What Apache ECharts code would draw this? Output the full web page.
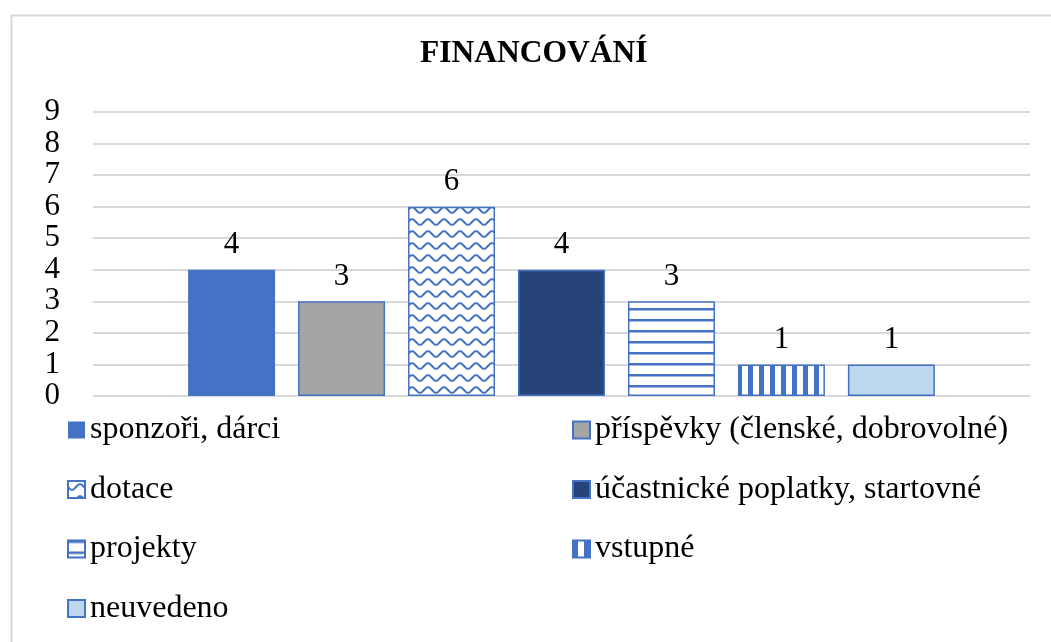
<!DOCTYPE html>
<html>
<head>
<meta charset="utf-8">
<title>FINANCOVÁNÍ</title>
<script src="https://cdn.jsdelivr.net/npm/echarts@6/dist/echarts.min.js"></script>
<style>
  html, body { margin: 0; padding: 0; background: #fff; }
  #chart { width: 1051px; height: 642px; }
</style>
</head>
<body>
<div id="chart"></div>
<script>
// data
const categories = [""];
const seriesNames = [
  "sponzoři, dárci",
  "příspěvky (členské, dobrovolné)",
  "dotace",
  "účastnické poplatky, startovné",
  "projekty",
  "vstupné",
  "neuvedeno"
];
const seriesValues = [4, 3, 6, 4, 3, 1, 1];
const yTicks = [0, 1, 2, 3, 4, 5, 6, 7, 8, 9];

// legend columns as in the picture
const legendLeftCol = [seriesNames[0], seriesNames[2], seriesNames[4], seriesNames[6]];
const legendRightCol = [seriesNames[1], seriesNames[3], seriesNames[5]];

const BLUE = "#4472C4";
const FONT = "Liberation Serif";

// small canvas tiles used as fill patterns
function makeTile(w, h, draw) {
  const c = document.createElement("canvas");
  c.width = w;
  c.height = h;
  const ctx = c.getContext("2d");
  ctx.fillStyle = "#fff";
  ctx.fillRect(0, 0, w, h);
  draw(ctx);
  return c;
}

const waveTile = makeTile(16, 12, function(ctx) {
  ctx.strokeStyle = BLUE;
  ctx.lineWidth = 2;
  ctx.beginPath();
  for (let x = -1; x <= 17; x += 0.5) {
    const y = 6 + 2.8 * Math.sin((2 * Math.PI * x) / 16);
    if (x === -1) ctx.moveTo(x, y);
    else ctx.lineTo(x, y);
  }
  ctx.stroke();
});

const hStripeTile = makeTile(8, 11, function(ctx) {
  ctx.fillStyle = BLUE;
  ctx.fillRect(0, 0, 8, 2.5);
});

const vStripeTile = makeTile(11, 8, function(ctx) {
  ctx.fillStyle = BLUE;
  ctx.fillRect(0, 0, 5, 8);
});

const fills = [
  BLUE,
  "#A5A5A5",
  { image: waveTile, repeat: "repeat" },
  "#264478",
  { image: hStripeTile, repeat: "repeat" },
  { image: vStripeTile, repeat: "repeat" },
  "#BDD7EE"
];

const chart = echarts.init(document.getElementById("chart"));

const series = seriesNames.map(function(name, i) {
  return {
    name: name,
    type: "bar",
    barWidth: 87,
    barGap: "26.4%",
    itemStyle: {
      color: fills[i],
      borderColor: BLUE,
      borderWidth: i === 0 ? 0 : 1.5
    },
    label: {
      show: true,
      position: "top",
      distance: 9,
      color: "#000",
      fontSize: 31,
      fontFamily: FONT
    },
    data: [seriesValues[i]]
  };
});

const legendBase = {
  orient: "vertical",
  icon: "rect",
  itemWidth: 17,
  itemHeight: 17,
  itemGap: 27.5,
  top: 414,
  padding: 0,
  textStyle: {
    color: "#000",
    fontSize: 32,
    lineHeight: 31,
    fontFamily: FONT
  }
};

const option = {
  animation: false,
  backgroundColor: "#fff",
  title: {
    text: "FINANCOVÁNÍ",
    left: 420,
    top: 38,
    padding: 0,
    textStyle: {
      color: "#000",
      fontSize: 31.5,
      fontWeight: "bold",
      fontFamily: FONT
    }
  },
  graphic: [
    {
      type: "rect",
      left: 9,
      top: 13,
      shape: { width: 1100, height: 700 },
      style: { fill: "none", stroke: "#d9d9d9", lineWidth: 2 },
      silent: true
    }
  ],
  legend: [
    Object.assign({}, legendBase, { left: 67, data: legendLeftCol }),
    Object.assign({}, legendBase, { left: 572, data: legendRightCol })
  ],
  grid: {
    left: 93,
    right: 21,
    top: 112,
    bottom: 246
  },
  xAxis: {
    type: "category",
    data: categories,
    axisLine: { show: false },
    axisTick: { show: false },
    axisLabel: { show: false }
  },
  yAxis: {
    type: "value",
    min: yTicks[0],
    max: yTicks[yTicks.length - 1],
    interval: 1,
    axisLine: { show: false },
    axisTick: { show: false },
    splitLine: {
      show: true,
      lineStyle: { color: "#d9d9d9", width: 2 }
    },
    axisLabel: {
      margin: 33,
      color: "#000",
      fontSize: 31,
      fontFamily: FONT
    }
  },
  series: series
};

chart.setOption(option);
</script>
</body>
</html>
